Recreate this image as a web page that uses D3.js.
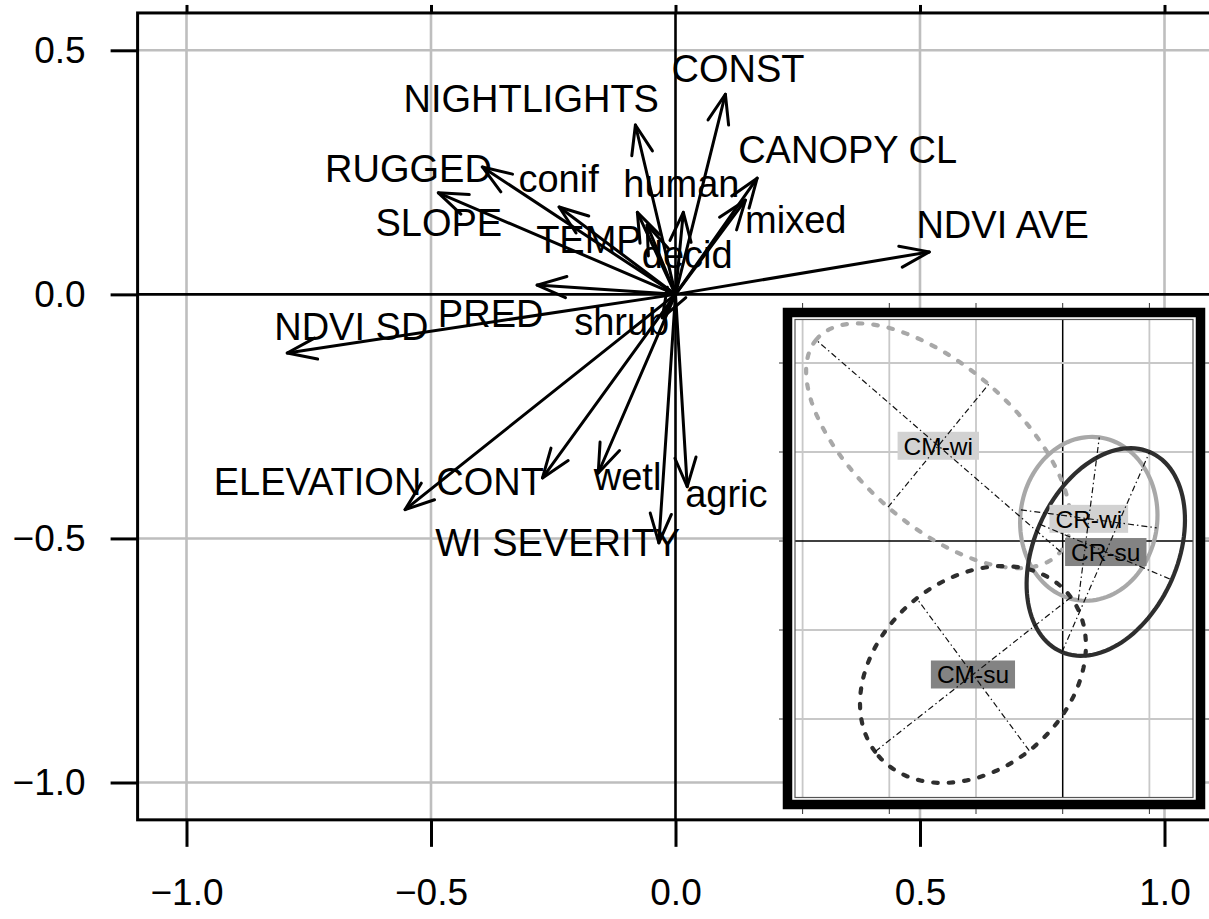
<!DOCTYPE html>
<html>
<head>
<meta charset="utf-8">
<script src="https://cdn.jsdelivr.net/npm/d3@7"></script>
<style>
  body { margin: 0; background: #fff; }
  svg { display: block; }
  text { font-family: "Liberation Sans", Arial, sans-serif; }
</style>
</head>
<body>
<svg id="chart" width="1209" height="919"></svg>
<script>
// ---- Variable loadings (correlation circle) ----
const variables = ["CONST", "NIGHTLIGHTS", "CANOPY CL", "mixed", "RUGGED", "SLOPE", "conif", "TEMP",
  "decid", "human", "NDVI AVE", "PRED", "NDVI SD", "shrub", "ELEVATION", "CONT", "wetl", "agric", "WI SEVERITY"];
const loadX = [0.102, -0.082, 0.167, 0.143, -0.395, -0.485, -0.238, -0.078,
  -0.058, 0.016, 0.519, -0.283, -0.794, -0.027, -0.553, -0.272, -0.158, 0.024, -0.034];
const loadY = [0.410, 0.347, 0.238, 0.193, 0.261, 0.208, 0.179, 0.168,
  0.142, 0.168, 0.087, 0.019, -0.120, -0.048, -0.441, -0.376, -0.366, -0.394, -0.509];
// label anchor (centre of baseline) for each variable
const labelX = [0.128, -0.295, 0.352, 0.246, -0.546, -0.484, -0.239, -0.177,
  0.024, 0.012, 0.669, -0.378, -0.663, -0.110, -0.732, -0.379, -0.098, 0.104, -0.241];
const labelY = [0.435, 0.373, 0.269, 0.126, 0.230, 0.120, 0.210, 0.085,
  0.054, 0.200, 0.115, -0.067, -0.093, -0.083, -0.411, -0.411, -0.401, -0.436, -0.535];

const xTickValues = [-1.0, -0.5, 0.0, 0.5, 1.0];
const yTickValues = [0.5, 0.0, -0.5, -1.0];
const xLimits = [-1.1, 1.1];
const yLimits = [-1.0765, 0.5765];

// ---- Group ellipses (inset factorial map) ----
const groups = ["CM-wi", "CR-wi", "CR-su", "CM-su"];
const groupCX = [-1.435, 0.301, 0.497, -1.035];
const groupCY = [1.070, 0.249, -0.124, -1.500];
const axis1X = [-1.41, 0.121, 0.505, -1.130];
const axis1Y = [1.19, 0.915, 1.124, -0.867];
const axis2X = [0.58, 0.783, 0.761, -0.649];
const axis2Y = [0.69, -0.101, -0.312, 0.856];
const groupColor = ["#a8a8a8", "#a8a8a8", "#2e2e2e", "#2e2e2e"];
const groupDashed = [true, false, false, true];
const groupBox = ["#d2d2d2", "#d2d2d2", "#838383", "#838383"];
const insetGridX = [-3, -2, -1, 0, 1];
const insetGridY = [2, 1, 0, -1, -2];

(function draw() {
  const svg = d3.select("#chart");

  // ---- main scales ----
  const x = d3.scaleLinear().domain([-1, 1]).range([186.5, 1164.5]);
  const y = d3.scaleLinear().domain([0.5, -1]).range([50.3, 782.5]);
  const pLeft = x(xLimits[0]), pRight = x(xLimits[1]);
  const pTop = y(yLimits[1]), pBottom = y(yLimits[0]);

  const grid = svg.append("g");
  grid.selectAll(".gx").data(xTickValues.filter(d => d !== 0)).join("line")
    .attr("x1", d => x(d)).attr("x2", d => x(d)).attr("y1", pTop).attr("y2", pBottom)
    .attr("stroke", "#bebebe").attr("stroke-width", 2.6);
  grid.selectAll(".gy").data(yTickValues.filter(d => d !== 0)).join("line")
    .attr("y1", d => y(d)).attr("y2", d => y(d)).attr("x1", pLeft).attr("x2", pRight)
    .attr("stroke", "#bebebe").attr("stroke-width", 2.6);
  grid.append("line").attr("x1", x(0)).attr("x2", x(0)).attr("y1", pTop).attr("y2", pBottom)
    .attr("stroke", "#000").attr("stroke-width", 2.6);
  grid.append("line").attr("x1", pLeft).attr("x2", pRight).attr("y1", y(0)).attr("y2", y(0))
    .attr("stroke", "#000").attr("stroke-width", 2.6);

  // frame
  svg.append("rect").attr("x", pLeft).attr("y", pTop).attr("width", pRight - pLeft).attr("height", pBottom - pTop)
    .attr("fill", "none").attr("stroke", "#000").attr("stroke-width", 3);

  // axes
  const fmt = d3.format(".1f");
  const xAxis = d3.axisBottom(x).tickValues(xTickValues).tickFormat(fmt).tickSize(27).tickPadding(32);
  const yAxis = d3.axisLeft(y).tickValues(yTickValues).tickFormat(fmt).tickSize(27).tickPadding(25);
  const xTop = d3.axisTop(x).tickValues(xTickValues).tickFormat("").tickSize(8);
  const gx = svg.append("g").attr("transform", `translate(0,${pBottom})`).call(xAxis);
  const gy = svg.append("g").attr("transform", `translate(${pLeft},0)`).call(yAxis);
  const gt = svg.append("g").attr("transform", `translate(0,${pTop})`).call(xTop);
  [gx, gy, gt].forEach(g => {
    g.select(".domain").remove();
    g.selectAll(".tick line").attr("stroke", "#000").attr("stroke-width", 3);
    g.selectAll("text").attr("font-size", 37).attr("fill", "#000")
      .attr("font-family", '"Liberation Sans", Arial, sans-serif');
  });
  gx.selectAll("text").attr("dy", "0.71em");

  // ---- arrows ----
  const headLen = 31, headAng = 20 * Math.PI / 180;
  const arrows = svg.append("g").attr("fill", "none").attr("stroke", "#000")
    .attr("stroke-width", 3).attr("stroke-linecap", "round").attr("stroke-linejoin", "round");
  variables.forEach((v, i) => {
    const x0 = x(0), y0 = y(0), x1 = x(loadX[i]), y1 = y(loadY[i]);
    const ang = Math.atan2(y1 - y0, x1 - x0);
    arrows.append("line").attr("x1", x0).attr("y1", y0).attr("x2", x1).attr("y2", y1);
    const p = a => [x1 - headLen * Math.cos(ang + a), y1 - headLen * Math.sin(ang + a)];
    const w1 = p(headAng), w2 = p(-headAng);
    arrows.append("path").attr("d", `M${w1[0]},${w1[1]}L${x1},${y1}L${w2[0]},${w2[1]}`);
  });

  // labels
  svg.append("g").selectAll("text").data(variables).join("text")
    .attr("x", (d, i) => x(labelX[i])).attr("y", (d, i) => y(labelY[i]))
    .attr("text-anchor", "middle").attr("font-size", 38).attr("fill", "#000")
    .text(d => d);

  // ---- inset ----
  const xi = d3.scaleLinear().domain([0, 1]).range([1062.7, 1149.4]);
  const yi = d3.scaleLinear().domain([0, 1]).range([541, 452]);
  const inner = { x0: 795, y0: 319.5, x1: 1193, y1: 797.5 };
  const inset = svg.append("g");
  inset.append("rect").attr("x", 787.5).attr("y", 312.5).attr("width", 413).attr("height", 492)
    .attr("fill", "#fff").attr("stroke", "#000").attr("stroke-width", 9.5);
  // small outer ticks at grid positions
  insetGridX.forEach(v => {
    inset.append("line").attr("x1", xi(v)).attr("x2", xi(v)).attr("y1", 303).attr("y2", 308).attr("stroke", "#333");
    inset.append("line").attr("x1", xi(v)).attr("x2", xi(v)).attr("y1", 809).attr("y2", 814).attr("stroke", "#333");
  });
  insetGridY.forEach(v => {
    inset.append("line").attr("y1", yi(v)).attr("y2", yi(v)).attr("x1", 779).attr("x2", 783).attr("stroke", "#333");
    inset.append("line").attr("y1", yi(v)).attr("y2", yi(v)).attr("x1", 1205).attr("x2", 1209).attr("stroke", "#333");
  });
  insetGridX.forEach(v => {
    inset.append("line").attr("x1", xi(v)).attr("x2", xi(v)).attr("y1", inner.y0).attr("y2", inner.y1)
      .attr("stroke", v === 0 ? "#000" : "#c8c8c8").attr("stroke-width", v === 0 ? 1.5 : 1.8);
  });
  insetGridY.forEach(v => {
    inset.append("line").attr("y1", yi(v)).attr("y2", yi(v)).attr("x1", inner.x0).attr("x2", inner.x1)
      .attr("stroke", v === 0 ? "#000" : "#c8c8c8").attr("stroke-width", v === 0 ? 1.5 : 1.8);
  });
  inset.append("rect").attr("x", inner.x0).attr("y", inner.y0)
    .attr("width", inner.x1 - inner.x0).attr("height", inner.y1 - inner.y0)
    .attr("fill", "none").attr("stroke", "#555").attr("stroke-width", 1.2);

  // ellipses
  const ellipsePath = i => {
    const pts = d3.range(0, 361, 3).map(t => {
      const r = t * Math.PI / 180;
      return [xi(groupCX[i] + axis1X[i] * Math.cos(r) + axis2X[i] * Math.sin(r)),
              yi(groupCY[i] + axis1Y[i] * Math.cos(r) + axis2Y[i] * Math.sin(r))];
    });
    return d3.line()(pts) + "Z";
  };
  groups.forEach((g, i) => {
    inset.append("path").attr("d", ellipsePath(i)).attr("fill", "none")
      .attr("stroke", groupColor[i]).attr("stroke-width", 4.2)
      .attr("stroke-linecap", groupDashed[i] ? "round" : "butt")
      .attr("stroke-dasharray", groupDashed[i] ? "4.5 11" : null);
  });

  // group labels
  groups.forEach((g, i) => {
    const t = inset.append("text").attr("x", xi(groupCX[i])).attr("y", yi(groupCY[i]))
      .attr("text-anchor", "middle").attr("dy", "0.36em").attr("font-size", 24.5).attr("fill", "#000").text(g);
    const bb = t.node().getBBox();
    inset.insert("rect", () => t.node())
      .attr("x", bb.x - 6).attr("y", yi(groupCY[i]) - 14).attr("width", bb.width + 12).attr("height", 28)
      .attr("fill", groupBox[i]);
  });

  // ellipse axes (dash-dot)
  groups.forEach((g, i) => {
    [[axis1X[i], axis1Y[i]], [axis2X[i], axis2Y[i]]].forEach(([ax, ay]) => {
      inset.append("line")
        .attr("x1", xi(groupCX[i] - ax)).attr("y1", yi(groupCY[i] - ay))
        .attr("x2", xi(groupCX[i] + ax)).attr("y2", yi(groupCY[i] + ay))
        .attr("stroke", "#111").attr("stroke-width", 1.2).attr("stroke-dasharray", "6 3 1.5 3");
    });
  });
})();
</script>
</body>
</html>
